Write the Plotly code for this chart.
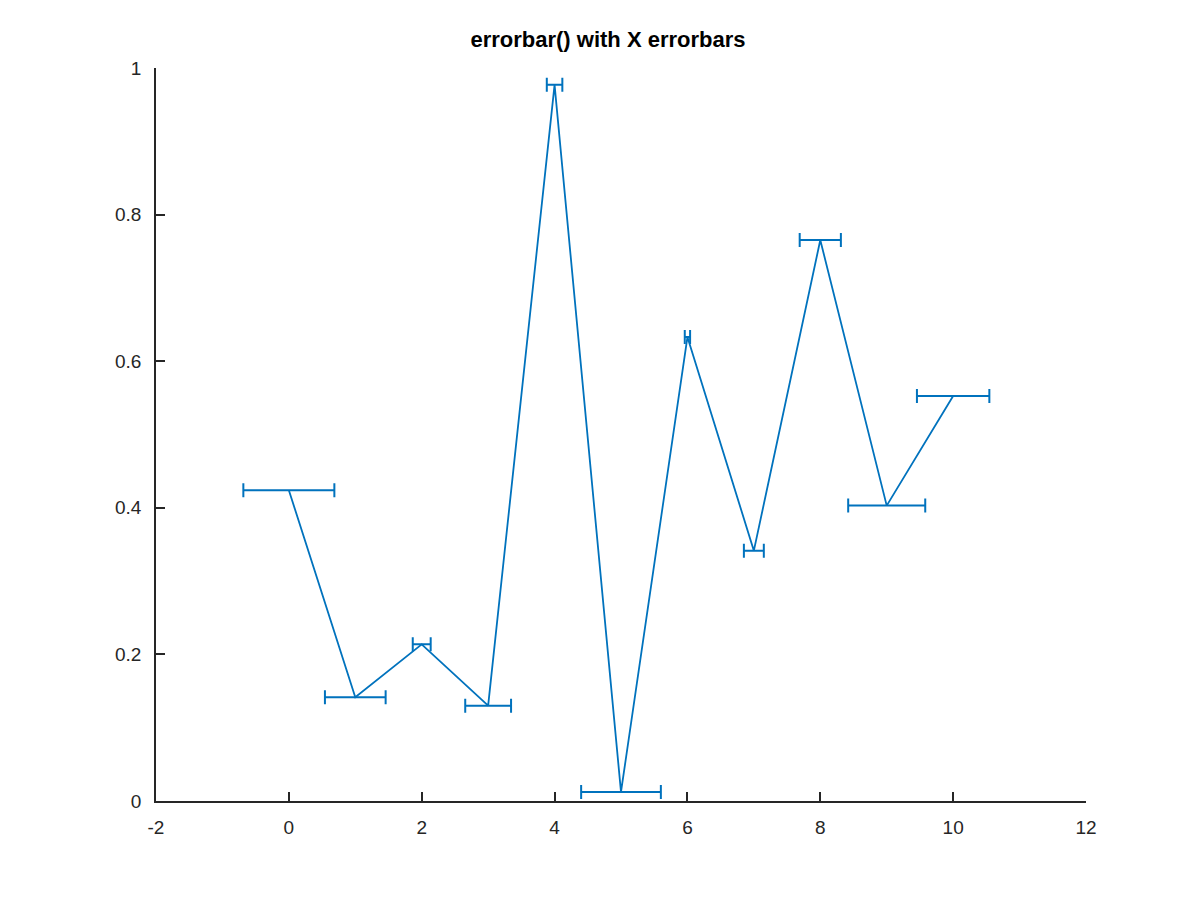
import plotly.graph_objects as go

x_vals = [0, 1, 2, 3, 4, 5, 6, 7, 8, 9, 10]
y_vals = [0.424, 0.1415, 0.2137, 0.130, 0.977, 0.0123, 0.633, 0.3415, 0.7653, 0.403, 0.5525]
x_err = [0.685, 0.457, 0.135, 0.345, 0.117, 0.60, 0.04, 0.15, 0.31, 0.58, 0.545]

x_ticks = [-2, 0, 2, 4, 6, 8, 10, 12]
y_ticks = [0, 0.2, 0.4, 0.6, 0.8, 1]
y_tick_labels = ["0", "0.2", "0.4", "0.6", "0.8", "1"]

color = "#0072BD"
axis_color = "#262626"

fig = go.Figure()
fig.add_trace(go.Scatter(
    x=x_vals, y=y_vals, mode="lines",
    line=dict(color=color, width=1.8),
    error_x=dict(type="data", array=x_err, visible=True, color=color,
                 thickness=2, width=7),
    showlegend=False,
))

fig.update_layout(
    width=1200, height=900,
    paper_bgcolor="white", plot_bgcolor="white",
    margin=dict(l=148, r=122, t=60, b=107),
    font=dict(family="Liberation Sans, Arial, sans-serif", size=19, color=axis_color),
    title=dict(text="<b>errorbar() with X errorbars</b>", x=0.5, xanchor="center",
               y=1 - 31/900, yanchor="middle",
               font=dict(size=22, color="black")),
)
fig.update_xaxes(
    range=[-2, 12], tickvals=x_ticks, ticktext=[str(t) for t in x_ticks],
    showgrid=False, zeroline=False, showline=True, linecolor=axis_color, linewidth=1.6,
    ticks="inside", ticklen=9, tickcolor=axis_color, tickwidth=1.6, mirror=False,
    ticklabelstandoff=8,
)
fig.update_yaxes(
    range=[0, 1], tickvals=y_ticks, ticktext=y_tick_labels,
    showgrid=False, zeroline=False, showline=True, linecolor=axis_color, linewidth=1.6,
    ticks="inside", ticklen=9, tickcolor=axis_color, tickwidth=1.6, mirror=False,
    ticklabelstandoff=9,
)

fig.write_html("out.html")
